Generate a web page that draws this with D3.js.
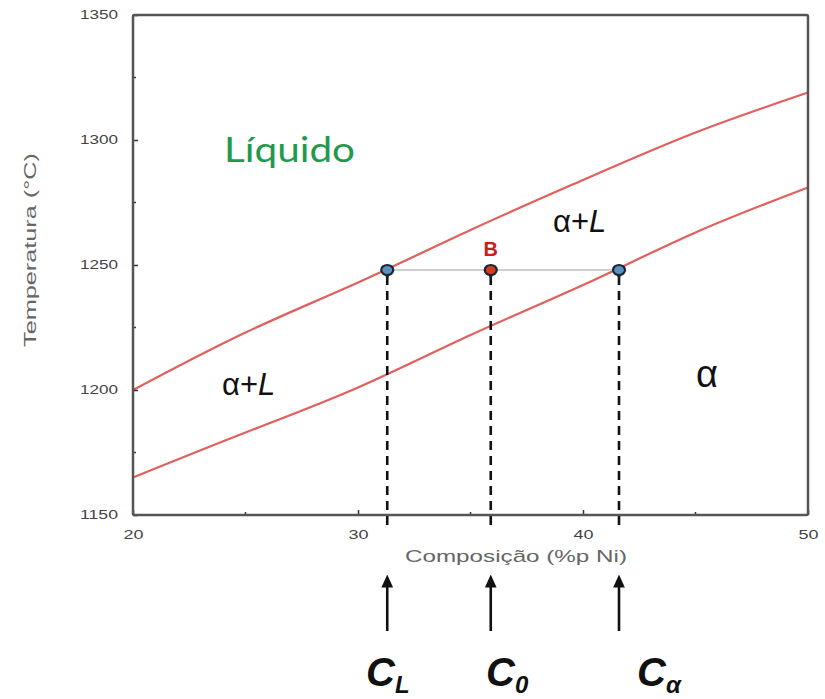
<!DOCTYPE html>
<html>
<head>
<meta charset="utf-8">
<script src="https://cdn.jsdelivr.net/npm/d3@7"></script>
<style>
  html, body { margin: 0; padding: 0; background: #fff; }
  svg { display: block; }
</style>
</head>
<body>
<svg id="chart" width="825" height="699"></svg>
<script>
// Cu–Ni phase diagram detail: liquidus / solidus around point B
const composition = [20, 25, 30, 35, 40, 45, 50];          // %p Ni
const liquidus    = [1200, 1223, 1243, 1264, 1284, 1303, 1319]; // °C
const solidus     = [1165, 1183, 1201, 1222, 1242, 1263, 1281]; // °C

const xTicks = [20, 30, 40, 50];
const xMinor = [25, 35, 45];
const yTicks = [1150, 1200, 1250, 1300, 1350];
const yMinor = [1175, 1225, 1275, 1325];

// Tie line at point B
const tieTemp = 1248;
const tiePoints = [
  { name: "CL", comp: 31.3, sub: "L" },
  { name: "C0", comp: 35.9, sub: "0" },
  { name: "Ca", comp: 41.6, sub: "α" }
];

const svg = d3.select("#chart");
const x = d3.scaleLinear().domain([20, 50]).range([133, 808]);
const y = d3.scaleLinear().domain([1150, 1350]).range([515, 15]);

const gray = "#555";
const sans = "'Liberation Sans', Arial, sans-serif";

// Phase boundaries
const line = d3.line()
  .x(d => x(d[0]))
  .y(d => y(d[1]))
  .curve(d3.curveNatural);

[liquidus, solidus].forEach(series => {
  svg.append("path")
    .datum(composition.map((c, i) => [c, series[i]]))
    .attr("d", line)
    .attr("fill", "none")
    .attr("stroke", "#e0605e")
    .attr("stroke-width", 2.2);
});

// Tie line
svg.append("line")
  .attr("x1", x(tiePoints[0].comp)).attr("x2", x(tiePoints[2].comp))
  .attr("y1", y(tieTemp)).attr("y2", y(tieTemp))
  .attr("stroke", "#cfcfcf")
  .attr("stroke-width", 2);

// Dashed drop lines to the composition axis
svg.selectAll(".drop")
  .data(tiePoints)
  .join("line")
  .attr("class", "drop")
  .attr("x1", d => x(d.comp)).attr("x2", d => x(d.comp))
  .attr("y1", y(tieTemp) + 6)
  .attr("y2", 527)
  .attr("stroke", "#111")
  .attr("stroke-width", 2.6)
  .attr("stroke-dasharray", "9,6");

// Axes: frame with inward ticks
const xAxis = d3.axisBottom(x).tickValues(xTicks).tickSize(-5).tickPadding(15).tickFormat(d3.format("d"));
const yAxis = d3.axisLeft(y).tickValues(yTicks).tickSize(-5).tickPadding(15).tickFormat(d3.format("d"));

const gx = svg.append("g").attr("transform", `translate(0,${y(1150)})`).call(xAxis);
const gy = svg.append("g").attr("transform", `translate(${x(20)},0)`).call(yAxis);
[gx, gy].forEach(g => {
  g.select(".domain").remove();
  g.selectAll(".tick line").attr("stroke", "#333").attr("stroke-width", 1.5);
  g.selectAll(".tick text")
    .attr("fill", "#444")
    .style("font-family", sans)
    .style("font-size", "12px");
});
gy.selectAll(".tick text").attr("textLength", 38).attr("lengthAdjust", "spacingAndGlyphs");
gx.selectAll(".tick text").style("font-size", "13px")
  .attr("textLength", 20).attr("lengthAdjust", "spacingAndGlyphs");

svg.append("g").selectAll("line")
  .data(xMinor).join("line")
  .attr("x1", d => x(d)).attr("x2", d => x(d))
  .attr("y1", y(1150)).attr("y2", y(1150) - 3)
  .attr("stroke", "#333").attr("stroke-width", 1.5);
svg.append("g").selectAll("line")
  .data(yMinor).join("line")
  .attr("x1", x(20)).attr("x2", x(20) + 3)
  .attr("y1", d => y(d)).attr("y2", d => y(d))
  .attr("stroke", "#333").attr("stroke-width", 1.5);

svg.append("rect")
  .attr("x", x(20)).attr("y", y(1350))
  .attr("width", x(50) - x(20)).attr("height", y(1150) - y(1350))
  .attr("fill", "none")
  .attr("stroke", gray)
  .attr("stroke-width", 2.5)
  .attr("rx", 1.5);

// Axis titles
svg.append("text")
  .attr("x", 405).attr("y", 562)
  .attr("fill", "#666")
  .attr("textLength", 222)
  .attr("lengthAdjust", "spacingAndGlyphs")
  .style("font-family", sans)
  .style("font-size", "17px")
  .text("Composição (%p Ni)");

svg.append("text")
  .attr("transform", "translate(36,347) rotate(-90)")
  .attr("fill", "#666")
  .attr("textLength", 194)
  .attr("lengthAdjust", "spacingAndGlyphs")
  .style("font-family", sans)
  .style("font-size", "17px")
  .text("Temperatura (°C)");

// Phase region labels
svg.append("text")
  .attr("x", 224).attr("y", 162)
  .attr("fill", "#1f9a4c")
  .attr("textLength", 131)
  .attr("lengthAdjust", "spacingAndGlyphs")
  .style("font-family", "Lato, 'Open Sans', sans-serif")
  .style("font-size", "34px")
  .text("Líquido");

function alphaL(xp, yp) {
  const t = svg.append("text")
    .attr("x", xp).attr("y", yp)
    .attr("fill", "#111")
    .style("font-family", sans)
    .style("font-size", "31px");
  t.append("tspan").text("α+");
  t.append("tspan").style("font-style", "italic").text("L");
}
alphaL(553, 232);
alphaL(222, 395);

svg.append("text")
  .attr("x", 696).attr("y", 387)
  .attr("fill", "#111")
  .style("font-family", sans)
  .style("font-size", "38px")
  .text("α");

// Point B label
svg.append("text")
  .attr("x", x(tiePoints[1].comp)).attr("y", 256)
  .attr("text-anchor", "middle")
  .attr("fill", "#c8201c")
  .style("font-family", sans)
  .style("font-weight", "bold")
  .style("font-size", "20px")
  .text("B");

// Markers on the tie line
const markers = svg.selectAll(".marker")
  .data(tiePoints)
  .join("g")
  .attr("class", "marker")
  .attr("transform", d => `translate(${x(d.comp)},${y(tieTemp)})`);
markers.append("path")
  .attr("d", "M-3,3 L0,10 L3,3 Z")
  .attr("fill", "#1b2631");
markers.append("ellipse")
  .attr("rx", 6).attr("ry", 5)
  .attr("fill", d => d.name === "C0" ? "#d8391f" : "#5a8fc2")
  .attr("stroke", "#1b2631")
  .attr("stroke-width", 2.2);

// Arrows pointing at the compositions
svg.append("defs").append("marker")
  .attr("id", "head")
  .attr("viewBox", "0 0 10 10")
  .attr("refX", 5).attr("refY", 5)
  .attr("markerWidth", 5).attr("markerHeight", 5)
  .attr("orient", "auto")
  .append("path").attr("d", "M0,0.5 L10,5 L0,9.5 Z").attr("fill", "#111");

svg.selectAll(".arrow")
  .data(tiePoints)
  .join("line")
  .attr("class", "arrow")
  .attr("x1", d => x(d.comp)).attr("x2", d => x(d.comp))
  .attr("y1", 631).attr("y2", 581)
  .attr("stroke", "#111")
  .attr("stroke-width", 2.6)
  .attr("marker-end", "url(#head)");

// Composition labels C_L, C_0, C_α
const labelX = { CL: 366, C0: 486, Ca: 637 };
tiePoints.forEach(d => {
  const t = svg.append("text")
    .attr("x", labelX[d.name]).attr("y", 686)
    .attr("fill", "#111")
    .style("font-family", sans)
    .style("font-weight", "bold")
    .style("font-style", "italic")
    .style("font-size", "40px");
  t.append("tspan").text("C");
  t.append("tspan").attr("dy", 7).style("font-size", "24px").text(d.sub);
});
</script>
</body>
</html>
